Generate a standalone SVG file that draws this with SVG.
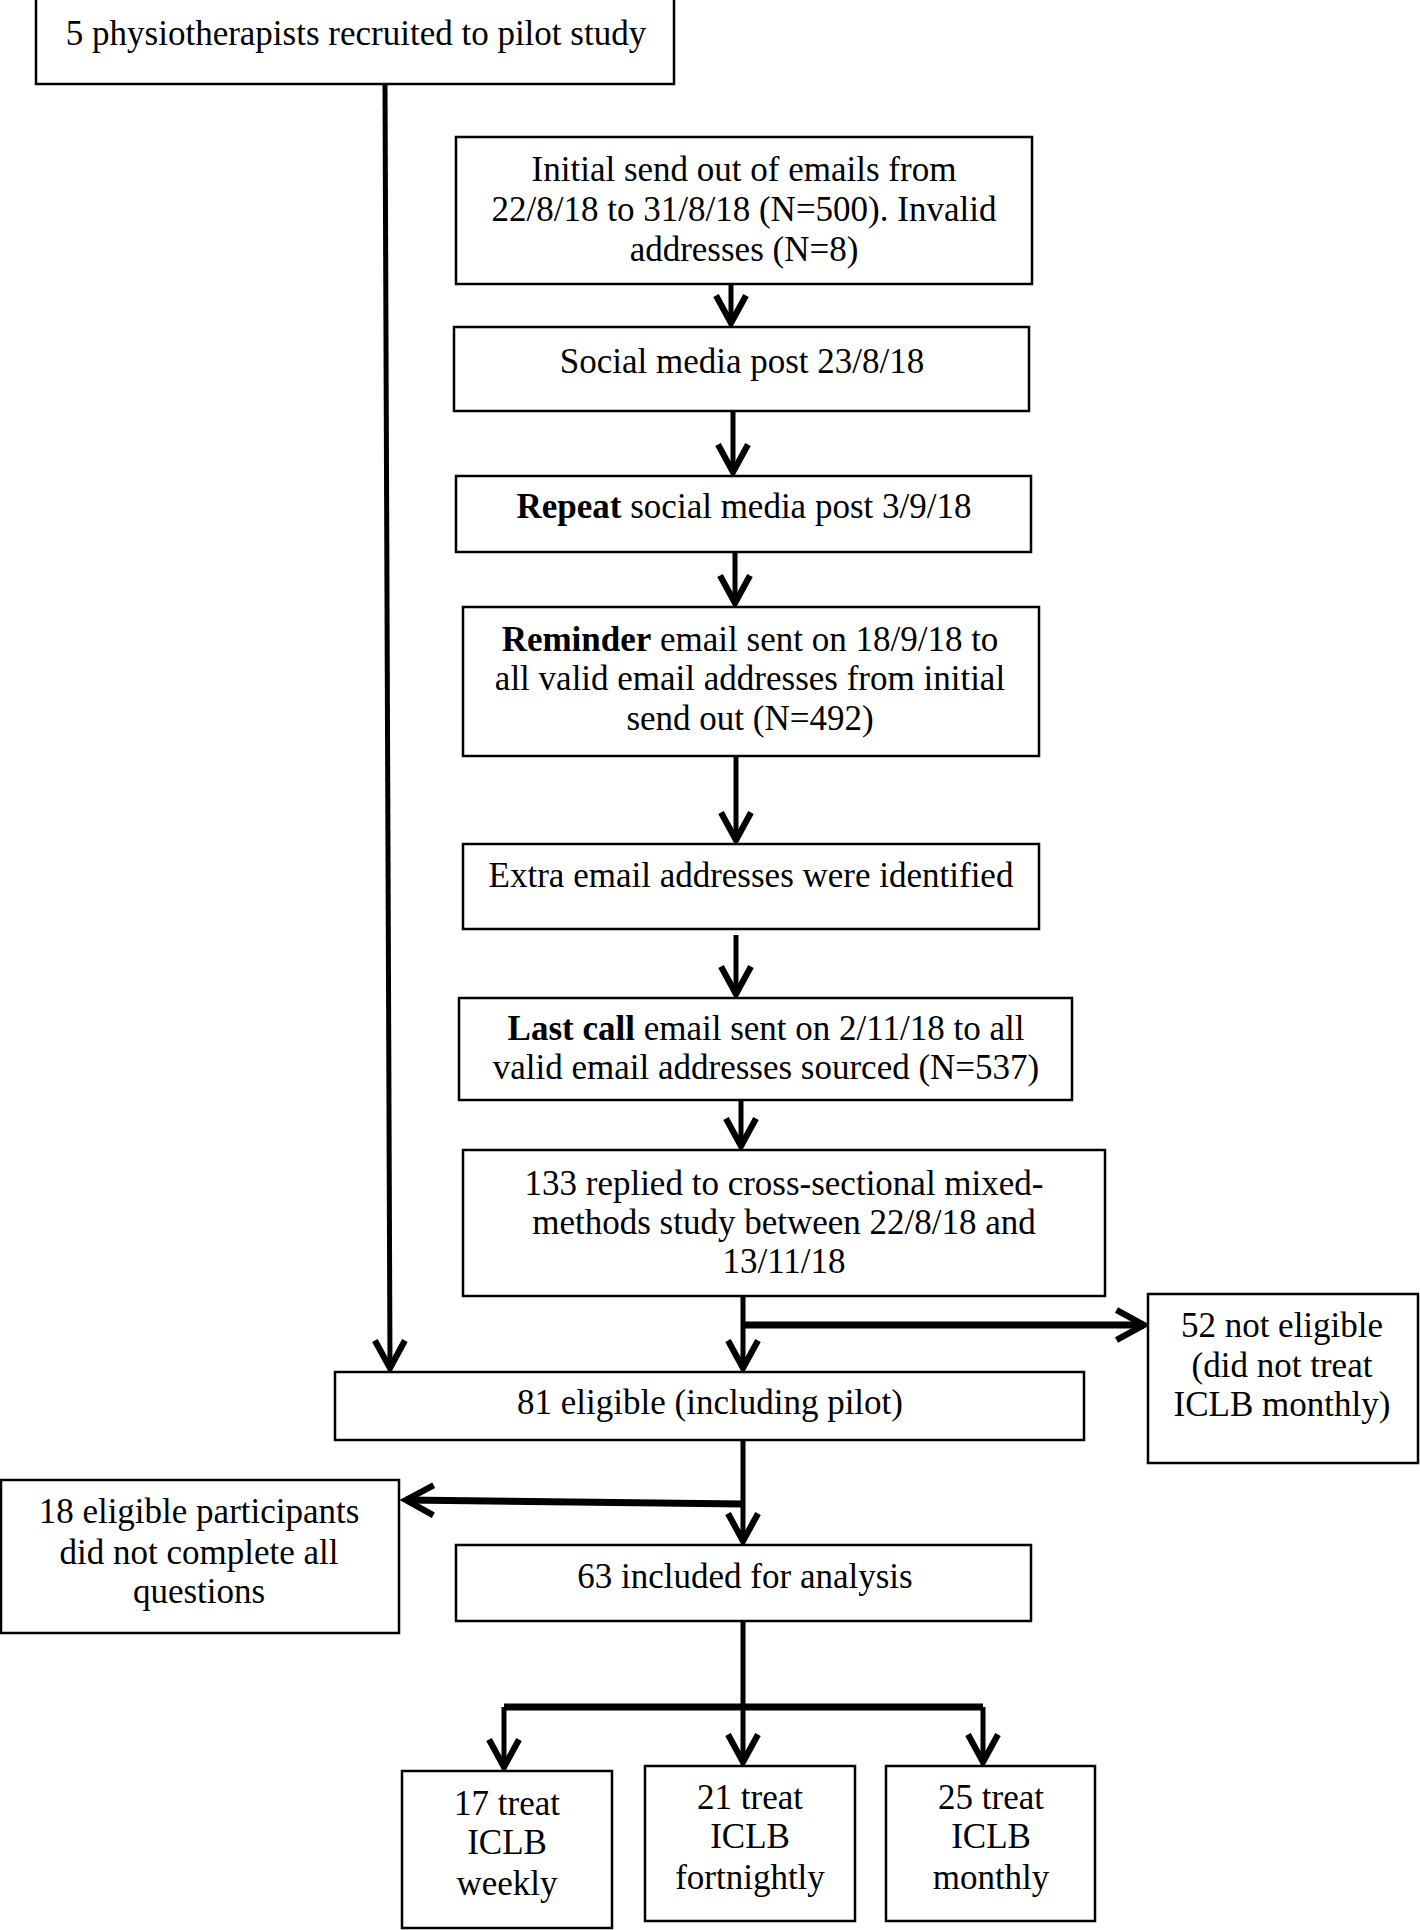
<svg xmlns="http://www.w3.org/2000/svg" width="1420" height="1930" viewBox="0 0 1420 1930">
<style>
.box{fill:#fff;stroke:#000;stroke-width:2.5}
text{font-family:"Liberation Serif","Times New Roman",serif;font-size:35px;fill:#000;text-anchor:middle}
.b{font-weight:bold}
.c{fill:none;stroke:#000;stroke-width:5}
.t{fill:none;stroke:#000;stroke-width:7}
</style>
<defs>
<marker id="ah" markerUnits="userSpaceOnUse" markerWidth="40" markerHeight="40" viewBox="-26 -16 30 32" refX="0" refY="0" orient="auto">
<path d="M -22 -12 L 0 0 L -22 12" fill="none" stroke="#000" stroke-width="5"/>
</marker>
</defs>
<rect width="1420" height="1930" fill="#fff"/>
<g id="connectors">
<path class="c" d="M385 84 L390 1368" marker-end="url(#ah)"/>
<path class="c" d="M731 284 L731 323" marker-end="url(#ah)"/>
<path class="c" d="M733 411 L733 472" marker-end="url(#ah)"/>
<path class="c" d="M735 552 L735 603" marker-end="url(#ah)"/>
<path class="c" d="M736 756 L736 840" marker-end="url(#ah)"/>
<path class="c" d="M736 935 L736 994" marker-end="url(#ah)"/>
<path class="c" d="M741 1100 L741 1146" marker-end="url(#ah)"/>
<path class="c" d="M743 1296 L743 1368" marker-end="url(#ah)"/>
<path class="t" d="M743 1325 L1144 1325" marker-end="url(#ah)"/>
<path class="c" d="M743 1440 L743 1541" marker-end="url(#ah)"/>
<path class="t" d="M743 1504 L406 1500" marker-end="url(#ah)"/>
<path class="c" d="M743 1621 L743 1707"/>
<path class="t" d="M504 1707 L983 1707"/>
<path class="c" d="M504 1707 L504 1767" marker-end="url(#ah)"/>
<path class="c" d="M743 1707 L743 1762" marker-end="url(#ah)"/>
<path class="c" d="M983 1707 L983 1762" marker-end="url(#ah)"/>
</g>
<g id="n1"><rect class="box" x="36" y="-2" width="638" height="86"/><text x="356" y="45">5 physiotherapists recruited to pilot study</text></g>
<g id="n2"><rect class="box" x="456" y="137" width="576" height="147"/><text x="744" y="181">Initial send out of emails from</text><text x="744" y="221">22/8/18 to 31/8/18 (N=500). Invalid</text><text x="744" y="261">addresses (N=8)</text></g>
<g id="n3"><rect class="box" x="454" y="327" width="575" height="84"/><text x="742" y="373">Social media post 23/8/18</text></g>
<g id="n4"><rect class="box" x="456" y="476" width="575" height="76"/><text x="744" y="518"><tspan class="b">Repeat</tspan> social media post 3/9/18</text></g>
<g id="n5"><rect class="box" x="463" y="607" width="576" height="149"/><text x="750" y="651"><tspan class="b">Reminder</tspan> email sent on 18/9/18 to</text><text x="750" y="690">all valid email addresses from initial</text><text x="750" y="730">send out (N=492)</text></g>
<g id="n6"><rect class="box" x="463" y="844" width="576" height="85"/><text x="751" y="887">Extra email addresses were identified</text></g>
<g id="n7"><rect class="box" x="459" y="998" width="613" height="102"/><text x="766" y="1040"><tspan class="b">Last call</tspan> email sent on 2/11/18 to all</text><text x="766" y="1079">valid email addresses sourced (N=537)</text></g>
<g id="n8"><rect class="box" x="463" y="1150" width="642" height="146"/><text x="784" y="1195">133 replied to cross-sectional mixed-</text><text x="784" y="1234">methods study between 22/8/18 and</text><text x="784" y="1273">13/11/18</text></g>
<g id="n9"><rect class="box" x="1148" y="1294" width="270" height="169"/><text x="1282" y="1337">52 not eligible</text><text x="1282" y="1377">(did not treat</text><text x="1282" y="1416">ICLB monthly)</text></g>
<g id="n10"><rect class="box" x="335" y="1372" width="749" height="68"/><text x="710" y="1414">81 eligible (including pilot)</text></g>
<g id="n11"><rect class="box" x="1" y="1480" width="398" height="153"/><text x="199" y="1523">18 eligible participants</text><text x="199" y="1564">did not complete all</text><text x="199" y="1603">questions</text></g>
<g id="n12"><rect class="box" x="456" y="1545" width="575" height="76"/><text x="745" y="1588">63 included for analysis</text></g>
<g id="n13"><rect class="box" x="402" y="1771" width="210" height="157"/><text x="507" y="1815">17 treat</text><text x="507" y="1854">ICLB</text><text x="507" y="1895">weekly</text></g>
<g id="n14"><rect class="box" x="645" y="1766" width="210" height="155"/><text x="750" y="1809">21 treat</text><text x="750" y="1848">ICLB</text><text x="750" y="1889">fortnightly</text></g>
<g id="n15"><rect class="box" x="886" y="1766" width="209" height="155"/><text x="991" y="1809">25 treat</text><text x="991" y="1848">ICLB</text><text x="991" y="1889">monthly</text></g>
</svg>
